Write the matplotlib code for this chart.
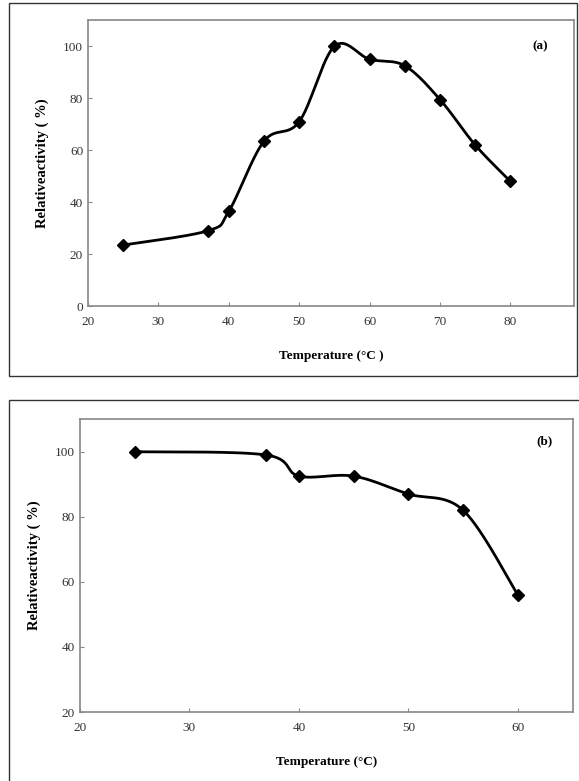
import numpy as np
import matplotlib.pyplot as plt
from matplotlib.patches import Rectangle

plt.rcParams['font.family'] = ['Liberation Serif', 'DejaVu Serif']

# panel (a): temperature optimum
temp_a = [25, 37, 40, 45, 50, 55, 60, 65, 70, 75, 80]
act_a = [23.5, 29, 36.5, 63.5, 71, 100, 95, 92.5, 79.5, 62, 48]

# panel (b): thermal stability
temp_b = [25, 37, 40, 45, 50, 55, 60]
act_b = [100, 99, 92.5, 92.5, 87, 82, 56]


def smooth(x, y, n=30):
    # excel-like smoothed line (cubic bezier, 1/6 tangent)
    x = np.asarray(x, float)
    y = np.asarray(y, float)
    px, py = [], []
    for i in range(len(x) - 1):
        x0, y0 = (x[i - 1], y[i - 1]) if i > 0 else (x[i], y[i])
        x3, y3 = (x[i + 2], y[i + 2]) if i + 2 < len(x) else (x[i + 1], y[i + 1])
        c1x = x[i] + (x[i + 1] - x0) / 6
        c1y = y[i] + (y[i + 1] - y0) / 6
        c2x = x[i + 1] - (x3 - x[i]) / 6
        c2y = y[i + 1] - (y3 - y[i]) / 6
        t = np.linspace(0, 1, n)
        px.extend((1 - t)**3 * x[i] + 3 * (1 - t)**2 * t * c1x + 3 * (1 - t) * t**2 * c2x + t**3 * x[i + 1])
        py.extend((1 - t)**3 * y[i] + 3 * (1 - t)**2 * t * c1y + 3 * (1 - t) * t**2 * c2y + t**3 * y[i + 1])
    return px, py


def panel(ax, x, y, xlim, ylim, xticks, yticks, tag, tagpos, xlabel):
    sx, sy = smooth(x, y)
    ax.plot(sx, sy, color='black', lw=2)
    ax.plot(x, y, 'D', color='black', ms=6.5)
    ax.set_xlim(*xlim)
    ax.set_ylim(*ylim)
    ax.set_xticks(xticks)
    ax.set_yticks(yticks)
    for s in ax.spines.values():
        s.set_color('#888888')
        s.set_linewidth(1.2)
    ax.tick_params(labelsize=9.5, length=3, color='#888888', direction='in', colors='#333333')
    ax.tick_params(axis='x', pad=7)
    ax.set_xlabel(xlabel, fontsize=9.5, fontweight='bold', labelpad=16)
    ax.set_ylabel('Relativeactivity ( %)', fontsize=10.5, fontweight='bold', labelpad=10)
    ax.text(tagpos[0], tagpos[1], tag, transform=ax.transAxes, fontsize=9.5,
            fontweight='bold', ha='center', va='center')


fig = plt.figure(figsize=(5.79, 7.81), dpi=100)

fig.add_artist(Rectangle((0.0155, 0.5186), 0.981, 0.4776, transform=fig.transFigure,
                         fill=False, ec='#333333', lw=1))
fig.add_artist(Rectangle((0.0155, -0.01), 1.0, 0.4978, transform=fig.transFigure,
                         fill=False, ec='#333333', lw=1))

ax1 = fig.add_axes([0.152, 0.608, 0.839, 0.366])
panel(ax1, temp_a, act_a, (20, 89), (0, 110), range(20, 81, 10), range(0, 101, 20),
      '(a)', (0.93, 0.909), 'Temperature (°C )')

ax2 = fig.add_axes([0.138, 0.0883, 0.851, 0.375])
panel(ax2, temp_b, act_b, (20, 65), (20, 110), range(20, 61, 10), range(20, 101, 20),
      '(b)', (0.943, 0.925), 'Temperature (°C)')

fig.savefig('out.png', dpi=100)
